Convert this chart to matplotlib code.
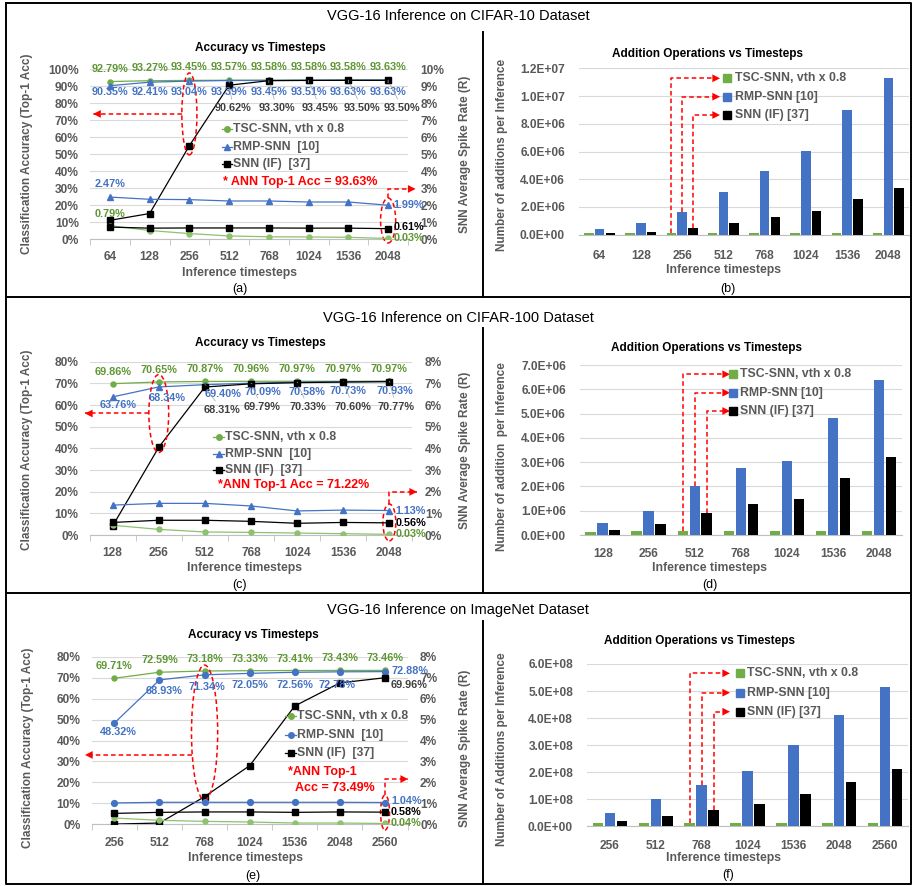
import numpy as np
import matplotlib.pyplot as plt
from matplotlib.lines import Line2D
from matplotlib.patches import Ellipse, Rectangle

W, H = 914, 886
plt.rcParams['font.family'] = ['Liberation Sans', 'DejaVu Sans']

GREEN = '#70AD47'
GREEN_L = '#8DC26F'
BLUE = '#4472C4'
BLACK = '#000000'
GRAY = '#595959'
GRID = '#D9D9D9'
GREEN_TXT = '#5E9732'
BLACK_TXT = '#404040'

# ---------------- data ----------------
c10_steps = ['64', '128', '256', '512', '768', '1024', '1536', '2048']
c10_tsc_acc = [92.79, 93.27, 93.45, 93.57, 93.58, 93.58, 93.58, 93.63]
c10_rmp_acc = [90.35, 92.41, 93.04, 93.39, 93.45, 93.51, 93.63, 93.63]
c10_if_acc = [11.0, 15.0, 55.0, 90.62, 93.30, 93.45, 93.50, 93.50]
c10_tsc_rate = [0.79, 0.50, 0.32, 0.18, 0.13, 0.12, 0.10, 0.03]
c10_rmp_rate = [2.47, 2.34, 2.32, 2.24, 2.24, 2.18, 2.18, 1.99]
c10_if_rate = [0.70, 0.64, 0.65, 0.65, 0.65, 0.64, 0.64, 0.61]
c10_tsc_ops = [1.0e5, 1.1e5, 1.4e5, 1.5e5, 1.5e5, 1.5e5, 1.5e5, 1.5e5]
c10_rmp_ops = [4.4e5, 8.2e5, 1.63e6, 3.1e6, 4.62e6, 6.04e6, 9.0e6, 1.128e7]
c10_if_ops = [1.2e5, 1.8e5, 4.6e5, 8.7e5, 1.3e6, 1.7e6, 2.57e6, 3.4e6]

c100_steps = ['128', '256', '512', '768', '1024', '1536', '2048']
c100_tsc_acc = [69.86, 70.65, 70.87, 70.96, 70.97, 70.97, 70.97]
c100_rmp_acc = [63.76, 68.34, 69.40, 70.09, 70.58, 70.73, 70.93]
c100_if_acc = [4.2, 40.5, 68.31, 69.79, 70.33, 70.60, 70.77]
c100_tsc_rate = [0.45, 0.26, 0.14, 0.12, 0.09, 0.06, 0.03]
c100_rmp_rate = [1.38, 1.46, 1.46, 1.34, 1.11, 1.15, 1.13]
c100_if_rate = [0.58, 0.68, 0.68, 0.63, 0.54, 0.58, 0.56]
c100_tsc_ops = [1.4e5, 1.6e5, 1.6e5, 1.6e5, 1.6e5, 1.6e5, 1.6e5]
c100_rmp_ops = [4.8e5, 1.0e6, 2.0e6, 2.75e6, 3.06e6, 4.82e6, 6.38e6]
c100_if_ops = [1.9e5, 4.4e5, 9.1e5, 1.29e6, 1.47e6, 2.36e6, 3.2e6]

img_steps = ['256', '512', '768', '1024', '1536', '2048', '2560']
img_tsc_acc = [69.71, 72.59, 73.18, 73.33, 73.41, 73.43, 73.46]
img_rmp_acc = [48.32, 68.93, 71.34, 72.05, 72.56, 72.78, 72.88]
img_if_acc = [0.1, 0.6, 13.2, 28.0, 56.5, 67.5, 69.96]
img_tsc_rate = [0.30, 0.19, 0.14, 0.11, 0.06, 0.06, 0.04]
img_rmp_rate = [1.02, 1.05, 1.05, 1.05, 1.05, 1.05, 1.04]
img_if_rate = [0.52, 0.57, 0.59, 0.59, 0.57, 0.59, 0.58]
img_tsc_ops = [1.1e7, 1.2e7, 1.3e7, 1.35e7, 1.35e7, 1.35e7, 1.35e7]
img_rmp_ops = [5.05e7, 1.01e8, 1.54e8, 2.05e8, 3.0e8, 4.11e8, 5.16e8]
img_if_ops = [1.97e7, 3.8e7, 6.2e7, 8.1e7, 1.21e8, 1.64e8, 2.11e8]

names = ['TSC-SNN, vth x 0.8', 'RMP-SNN [10]', 'SNN (IF) [37]']
line_names = ['TSC-SNN, vth x 0.8', 'RMP-SNN  [10]', 'SNN (IF)  [37]']

fig = plt.figure(figsize=(W / 100, H / 100), dpi=100)


def px_axes(l, t, r, b):
    return fig.add_axes([l / W, 1 - b / H, (r - l) / W, (b - t) / H])


def ftext(x, y, s, **kw):
    return fig.text(x / W, 1 - y / H, s, **kw)


def fline(xs, ys, **kw):
    fig.add_artist(Line2D([x / W for x in xs], [1 - y / H for y in ys],
                          transform=fig.transFigure, **kw))


def style_x(ax, n, pad):
    ax.set_xlim(-0.5, n - 0.5)
    ax.set_xticks(np.arange(-0.5, n), minor=True)
    ax.tick_params(axis='x', which='major', length=0, pad=pad, labelsize=8.6,
                   labelcolor=GRAY)
    ax.tick_params(axis='x', which='minor', length=4, color='#BFBFBF')
    for s in ['top', 'left', 'right']:
        ax.spines[s].set_visible(False)
    ax.spines['bottom'].set_color('#BFBFBF')
    ax.spines['bottom'].set_linewidth(0.8)
    for t in ax.get_xticklabels():
        t.set_fontweight('bold')


def dlabel(ax, x, y, s, color, dx, dy, ha='center', lead=False):
    ap = None
    if lead:
        ap = dict(arrowstyle='-', color='#A6A6A6', lw=0.5, shrinkA=1, shrinkB=3)
    ax.annotate(s, (x, y), xytext=(dx, dy), textcoords='offset pixels',
                ha=ha, va='center', color=color, fontsize=7.8,
                fontweight='bold', annotation_clip=False, arrowprops=ap,
                zorder=8)


def red_arrow(ax, xs, ys):
    ax.plot(xs, ys, color='red', ls=(0, (3, 2)), lw=1.1, clip_on=False,
            zorder=7)
    ax.annotate('', xy=(xs[-1], ys[-1]), xytext=(xs[-2], ys[-2]),
                arrowprops=dict(arrowstyle='-|>,head_length=0.55,head_width=0.28',
                                color='red', lw=0, shrinkA=0, shrinkB=0),
                annotation_clip=False)


def acc_panel(box, steps, accs, rates, top, rmp_mk, ylab_pos):
    ax = px_axes(*box)
    ax2 = ax.twinx()
    n = len(steps)
    x = np.arange(n)
    tsc, rmp, snn = accs
    tsc_r, rmp_r, snn_r = rates
    ax.plot(x, tsc, color=GREEN, lw=0.9, marker='o', ms=3.6, zorder=4)
    ax.plot(x, rmp, color=BLUE, lw=0.9, marker=rmp_mk, ms=4.2, zorder=4)
    ax.plot(x, snn, color=BLACK, lw=0.9, marker='s', ms=4.2, zorder=4)
    ax2.plot(x, tsc_r, color=GREEN_L, lw=0.9, marker='o', ms=3.6, zorder=4)
    ax2.plot(x, rmp_r, color=BLUE, lw=0.9, marker=rmp_mk, ms=4.2, zorder=4)
    ax2.plot(x, snn_r, color=BLACK, lw=0.9, marker='s', ms=4.2, zorder=4)

    ax.set_ylim(0, top)
    ax2.set_ylim(0, top / 10)
    ax.set_yticks(np.arange(0, top + 1, 10))
    ax.set_yticklabels([f'{v}%' for v in range(0, top + 1, 10)])
    ax2.set_yticks(np.arange(0, top / 10 + 0.5, 1))
    ax2.set_yticklabels([f'{v}%' for v in range(0, top // 10 + 1)])
    ax.yaxis.grid(True, color=GRID, lw=0.8)
    ax.set_axisbelow(True)
    ax.set_xticks(x)
    ax.set_xticklabels(steps)
    style_x(ax, n, 9)
    for s in ax2.spines.values():
        s.set_visible(False)
    ax.tick_params(axis='y', length=0, pad=8, labelsize=8.6, labelcolor=GRAY)
    ax2.tick_params(axis='y', length=0, pad=9, labelsize=8.6, labelcolor=GRAY)
    for t in ax.get_yticklabels() + ax2.get_yticklabels():
        t.set_fontweight('bold')
    lx, rx, cy = ylab_pos
    ftext(lx, cy, 'Classification Accuracy (Top-1 Acc)', rotation=90,
          ha='center', va='center', fontsize=8.5, fontweight='bold', color=GRAY)
    ftext(rx, cy, 'SNN Average Spike Rate (R)', rotation=90,
          ha='center', va='center', fontsize=8.5, fontweight='bold', color=GRAY)
    return ax, ax2


def line_legend(x0, x1, xt, ys, mks):
    cols = [GREEN, BLUE, BLACK]
    for y, lab, col, mk in zip(ys, line_names, cols, mks):
        fline([x0, (x0 + x1) / 2, x1], [y, y, y], color=col, lw=0.9,
              marker=mk, ms=4, markevery=[1])
        ftext(xt, y, lab, ha='left', va='center', fontsize=8.8,
              fontweight='bold', color=GRAY)


def bar_panel(box, steps, ops, step_exp, top, nticks, ylabel, ylab_pos, pad):
    ax = px_axes(*box)
    n = len(steps)
    x = np.arange(n)
    w, off = 0.23, 0.26
    cols = [GREEN, BLUE, BLACK]
    for k, (vals, col) in enumerate(zip(ops, cols)):
        ax.bar(x + (k - 1) * off, vals, width=w, color=col, zorder=3)
    ax.set_ylim(0, top)
    ticks = np.linspace(0, top, nticks)
    ax.set_yticks(ticks)
    ax.set_yticklabels([f'{v:.1E}' for v in ticks])
    ax.yaxis.grid(True, color=GRID, lw=0.8)
    ax.set_axisbelow(True)
    ax.set_xticks(x)
    ax.set_xticklabels(steps)
    style_x(ax, n, pad)
    ax.tick_params(axis='x', which='minor', length=0)
    ax.tick_params(axis='y', length=0, pad=10, labelsize=8.6, labelcolor=GRAY)
    for t in ax.get_yticklabels():
        t.set_fontweight('bold')
    lx, cy = ylab_pos
    ftext(lx, cy, ylabel, rotation=90, ha='center', va='center',
          fontsize=8.5, fontweight='bold', color=GRAY)
    return ax


def bar_legend(ax, xc, xt, ys, idx, ops, tip):
    cols = [GREEN, BLUE, BLACK]
    inv = fig.transFigure.inverted()
    for k, (y, lab, col) in enumerate(zip(ys, names, cols)):
        fig.add_artist(Rectangle(((xc - 4) / W, 1 - (y + 4) / H), 8 / W, 8 / H,
                                 transform=fig.transFigure, color=col))
        ftext(xt, y, lab, ha='left', va='center', fontsize=8.8,
              fontweight='bold', color=GRAY)
        bx, by = inv.transform(ax.transData.transform((idx + (k - 1) * 0.26,
                                                       ops[k][idx])))
        bxp, byp = bx * W, (1 - by) * H
        fline([bxp, bxp, tip - 5], [byp, y, y], color='red', lw=1.1,
              ls=(0, (3, 2)))
        ax.annotate('', xy=(tip / W, 1 - y / H), xytext=((tip - 6) / W, 1 - y / H),
                    xycoords='figure fraction', textcoords='figure fraction',
                    arrowprops=dict(arrowstyle='-|>,head_length=0.55,head_width=0.28',
                                    color='red', lw=0, shrinkA=0, shrinkB=0))


def ellipse(ax, cx, cy, w, h):
    ax.add_patch(Ellipse((cx, cy), w, h, fill=False, ec='red', lw=1.1,
                         ls=(0, (3, 2)), clip_on=False, zorder=7))


# ---------------- frame ----------------
fr = dict(color='black', lw=1.4)
fline([6, 911, 911, 6, 6], [3, 3, 884, 884, 3], **fr)
fline([6, 911], [297, 297], **fr)
fline([6, 911], [593, 593], **fr)
fline([483, 483], [32, 297], **fr)
fline([483, 483], [328, 593], **fr)
fline([483, 483], [621, 884], **fr)
for y, s in [(16, 'VGG-16 Inference on CIFAR-10 Dataset'),
             (318, 'VGG-16 Inference on CIFAR-100 Dataset'),
             (610, 'VGG-16 Inference on ImageNet Dataset')]:
    ftext(458, y, s, ha='center', va='center', fontsize=10.5, color='black')

title_kw = dict(ha='center', va='center', fontsize=8.5, fontweight='bold',
                color='black')
xl_kw = dict(ha='center', va='center', fontsize=8.8, fontweight='bold',
             color=GRAY)
sub_kw = dict(ha='center', va='center', fontsize=9, color='black')

# ---------------- (a) ----------------
ax, ax2 = acc_panel((90, 69.3, 408, 239), c10_steps,
                    (c10_tsc_acc, c10_rmp_acc, c10_if_acc),
                    (c10_tsc_rate, c10_rmp_rate, c10_if_rate), 100, '^',
                    (27, 465, 154))
rmp_dy = [-6, -10, -11, -11.5, -11.5, -11.5, -12, -12]
for i, v in enumerate(c10_tsc_acc):
    dlabel(ax, i, v, f'{v:.2f}%', GREEN_TXT, 0, 13)
for i, v in enumerate(c10_rmp_acc):
    dlabel(ax, i, v, f'{v:.2f}%', BLUE, 0, rmp_dy[i], lead=i >= 2)
if_dx = [4, 8, 11.5, 13.5, 14]
if_dy = [-23, -27.7, -27.7, -27.7, -27.7]
for j, i in enumerate(range(3, 8)):
    dlabel(ax, i, c10_if_acc[i], f'{c10_if_acc[i]:.2f}%', BLACK_TXT,
           if_dx[j], if_dy[j], lead=True)
dlabel(ax2, 0, c10_rmp_rate[0], f'{c10_rmp_rate[0]:.2f}%', BLUE, 0, 13)
dlabel(ax2, 0, c10_tsc_rate[0], f'{c10_tsc_rate[0]:.2f}%', GREEN_TXT, 0, 12)
dlabel(ax2, 7, c10_rmp_rate[7], f'{c10_rmp_rate[7]:.2f}%', BLUE, 5, 0, ha='left')
dlabel(ax2, 7, c10_if_rate[7], f'{c10_if_rate[7]:.2f}%', BLACK, 5, 2, ha='left')
dlabel(ax2, 7, c10_tsc_rate[7], f'{c10_tsc_rate[7]:.2f}%', GREEN_TXT, 5, 0, ha='left')
ellipse(ax, 2, 73.7, 0.38, 48.3)
red_arrow(ax, [1.81, -0.42], [73.7, 73.7])
ellipse(ax, 7, 10.9, 0.38, 26.5)
red_arrow(ax, [7, 7, 7.69], [24.2, 29.5, 29.5])
line_legend(222, 232, 233, [129, 147, 164], ['o', '^', 's'])
ftext(223, 182, '* ANN Top-1 Acc = 93.63%', ha='left', va='center',
      fontsize=9, fontweight='bold', color='red')
ftext(260, 48, 'Accuracy vs Timesteps', **title_kw)
ftext(239, 273, 'Inference timesteps', **xl_kw)
ftext(240, 289, '(a)', **sub_kw)

# ---------------- (b) ----------------
bx = bar_panel((579, 68.3, 909, 234.7), c10_steps,
               (c10_tsc_ops, c10_rmp_ops, c10_if_ops), 0, 1.2e7, 7,
               'Number of additions per Inference', (502, 155), 11)
bar_legend(bx, 726.7, 735, [78.3, 96.7, 115], 2,
           (c10_tsc_ops, c10_rmp_ops, c10_if_ops), 720)
ftext(707, 54, 'Addition Operations vs Timesteps', **title_kw)
ftext(723, 270, 'Inference timesteps', **xl_kw)
ftext(728, 289, '(b)', **sub_kw)

# ---------------- (c) ----------------
ax, ax2 = acc_panel((89.6, 361.7, 412.4, 535), c100_steps,
                    (c100_tsc_acc, c100_rmp_acc, c100_if_acc),
                    (c100_tsc_rate, c100_rmp_rate, c100_if_rate), 80, '^',
                    (27, 465, 450))
for i, v in enumerate(c100_tsc_acc):
    dlabel(ax, i, v, f'{v:.2f}%', GREEN_TXT, 0, 12)
rmp_dx = [5, 8, 18, 12, 10, 5, 6]
rmp_dy = [-8, -11, -9, -8.5, -9.5, -9, -10]
for i, v in enumerate(c100_rmp_acc):
    dlabel(ax, i, v, f'{v:.2f}%', BLUE, rmp_dx[i], rmp_dy[i], lead=i >= 2)
if_dx = [17, 11, 11, 10, 7]
if_dy = [-23, -23.5, -24.6, -24.6, -25]
for j, i in enumerate(range(2, 7)):
    dlabel(ax, i, c100_if_acc[i], f'{c100_if_acc[i]:.2f}%', BLACK_TXT,
           if_dx[j], if_dy[j], lead=True)
dlabel(ax2, 6, c100_rmp_rate[6], f'{c100_rmp_rate[6]:.2f}%', BLUE, 6, 0, ha='left')
dlabel(ax2, 6, c100_if_rate[6], f'{c100_if_rate[6]:.2f}%', BLACK, 6, 0, ha='left')
dlabel(ax2, 6, c100_tsc_rate[6], f'{c100_tsc_rate[6]:.2f}%', GREEN_TXT, 6, 0, ha='left')
ellipse(ax, 1, 56.1, 0.43, 36)
red_arrow(ax, [0.78, -0.6], [56.1, 56.1])
ellipse(ax, 6, 5.8, 0.28, 17)
red_arrow(ax, [6, 6, 6.6], [14.3, 19.9, 19.9])
line_legend(213, 224, 225, [437.3, 454, 470], ['o', '^', 's'])
ftext(218, 485, '*ANN Top-1 Acc = 71.22%', ha='left', va='center',
      fontsize=9, fontweight='bold', color='red')
ftext(260, 342.7, 'Accuracy vs Timesteps', **title_kw)
ftext(244, 568, 'Inference timesteps', **xl_kw)
ftext(240, 585, '(c)', **sub_kw)

# ---------------- (d) ----------------
bx = bar_panel((579.7, 365, 902, 535), c100_steps,
               (c100_tsc_ops, c100_rmp_ops, c100_if_ops), 0, 7e6, 8,
               'Number of addition  per Inference', (502, 456.7), 9.5)
bar_legend(bx, 733, 740, [374.3, 392.7, 411], 2,
           (c100_tsc_ops, c100_rmp_ops, c100_if_ops), 730)
ftext(706.7, 348.3, 'Addition Operations vs Timesteps', **title_kw)
ftext(710, 568, 'Inference timesteps', **xl_kw)
ftext(710, 585, '(d)', **sub_kw)

# ---------------- (e) ----------------
ax, ax2 = acc_panel((91.8, 656.7, 407.6, 824.3), img_steps,
                    (img_tsc_acc, img_rmp_acc, img_if_acc),
                    (img_tsc_rate, img_rmp_rate, img_if_rate), 80, 'o',
                    (28, 465, 748))
for i, v in enumerate(img_tsc_acc):
    dlabel(ax, i, v, f'{v:.2f}%', GREEN_TXT, 0, 12)
rmp_dx = [4, 5, 2, 0, 0, -3]
rmp_dy = [-9, -11, -12, -12, -13, -13]
for i in range(6):
    dlabel(ax, i, img_rmp_acc[i], f'{img_rmp_acc[i]:.2f}%', BLUE,
           rmp_dx[i], rmp_dy[i])
dlabel(ax, 6, img_rmp_acc[6], f'{img_rmp_acc[6]:.2f}%', BLUE, 6, 1, ha='left')
dlabel(ax, 6, img_if_acc[6], f'{img_if_acc[6]:.2f}%', BLACK_TXT, 6, -7, ha='left')
dlabel(ax2, 6, img_rmp_rate[6], f'{img_rmp_rate[6]:.2f}%', BLUE, 6, 2, ha='left')
dlabel(ax2, 6, img_if_rate[6], f'{img_if_rate[6]:.2f}%', BLACK, 6, 0, ha='left')
dlabel(ax2, 6, img_tsc_rate[6], f'{img_tsc_rate[6]:.2f}%', GREEN_TXT, 6, 0, ha='left')
ellipse(ax, 2, 43.8, 0.58, 64.4)
red_arrow(ax, [1.71, -0.65], [33.1, 33.1])
ellipse(ax, 6, 5.6, 0.2, 16.7)
red_arrow(ax, [6, 6, 6.51], [14.0, 21.6, 21.6])
line_legend(285, 296, 297, [716, 735.3, 753.3], ['o', 'o', 's'])
ftext(288, 771.7, '*ANN Top-1', ha='left', va='center',
      fontsize=9, fontweight='bold', color='red')
ftext(295, 788.3, 'Acc = 73.49%', ha='left', va='center',
      fontsize=9, fontweight='bold', color='red')
ftext(253, 635, 'Accuracy vs Timesteps', **title_kw)
ftext(246, 857.7, 'Inference timesteps', **xl_kw)
ftext(253, 876, '(e)', **sub_kw)

# ---------------- (f) ----------------
bx = bar_panel((587, 664, 908, 826.3), img_steps,
               (img_tsc_ops, img_rmp_ops, img_if_ops), 0, 6e8, 7,
               'Number of Additions per Inference', (502, 749), 10)
bar_legend(bx, 740, 746.7, [673.3, 692.7, 711.7], 2,
           (img_tsc_ops, img_rmp_ops, img_if_ops), 730)
ftext(700, 640.7, 'Addition Operations vs Timesteps', **title_kw)
ftext(724, 858, 'Inference timesteps', **xl_kw)
ftext(728, 875, '(f)', **sub_kw)

fig.savefig('out.png', dpi=100)
